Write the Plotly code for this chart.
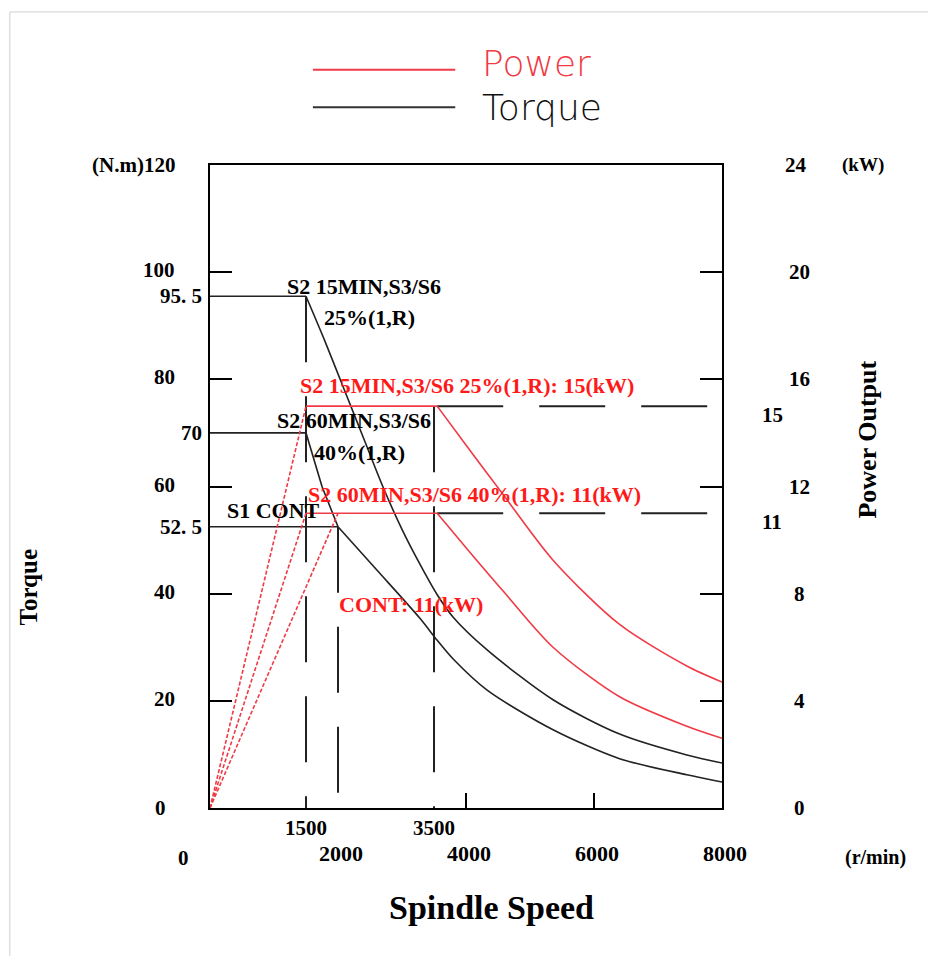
import plotly.graph_objects as go

# ---------------- data ----------------
# Power ramps (dashed, red) : speed r/min, power kW
ramp_s2_15_speed = [0, 1500]
ramp_s2_15_kw = [0, 15]
ramp_s2_60_speed = [0, 1500]
ramp_s2_60_kw = [0, 11]
ramp_cont_speed = [0, 2000]
ramp_cont_kw = [0, 11]

# Power curves (solid, red): flat part then decline
pw_s2_15_speed = [1500, 3550, 4060, 4580, 5360, 6400, 7450, 8000]
pw_s2_15_kw = [15, 15, 13.35, 11.7, 9.25, 6.85, 5.3, 4.7]
pw_s2_60_speed = [1500, 3550, 4060, 4580, 5360, 6400, 7450, 8000]
pw_s2_60_kw = [11, 11, 9.55, 8.1, 6.0, 4.15, 3.05, 2.6]

# Torque curves (solid, black) : speed r/min, torque N.m
tq_s2_15_speed = [0, 1500, 1800, 2100, 2400, 2700, 3000, 3280, 3550, 3800, 4330, 5360, 6400, 7450, 8000]
tq_s2_15_nm = [95.5, 95.5, 87, 78, 69, 60, 52, 45.5, 39.8, 35.6, 29.5, 20.2, 13.8, 9.9, 8.4]
tq_s2_60_speed = [0, 1500, 1750, 2000]
tq_s2_60_nm = [70, 70, 60, 52.5]
tq_cont_speed = [0, 2000, 2600, 3280, 3550, 3800, 4330, 5360, 6400, 7450, 8000]
tq_cont_nm = [52.5, 52.5, 44.5, 35.4, 31.3, 27.8, 22.0, 14.6, 9.2, 6.2, 4.85]

# Reference lines
vline_speed = [1500, 2000]
vline_top_nm = [95.5, 52.5]
vline_kw_speed = [3500]
vline_kw_top = [15]
hline_kw = [15, 11]
hline_kw_from = 3550
speed_max = 8000

# Tick labels
torque_ticks = [100, 80, 60, 40, 20]
torque_marks = [95.5, 70, 52.5]
power_ticks = [20, 16, 12, 8, 4, 0]
power_marks = [15, 11]
speed_ticks_low = [1500, 3500]
speed_ticks_high = [2000, 4000, 6000, 8000]

RED = "#f03a45"
RED_TXT = "#ff1a1a"
BLK = "#222222"
SERIF = "Liberation Serif"

fig = go.Figure()

def line(x, y, color, dash="solid", width=1.6, axis="y", shape="linear"):
    fig.add_trace(go.Scatter(x=x, y=y, mode="lines", yaxis=axis, showlegend=False,
                             hoverinfo="skip",
                             line=dict(color=color, width=width, dash=dash, shape=shape,
                                       smoothing=0.8)))

# vertical dashed lines
for s, t in zip(vline_speed, vline_top_nm):
    line([s, s], [t, 0], BLK, dash="66px,34px", width=2)
for s, t in zip(vline_kw_speed, vline_kw_top):
    line([s, s], [t, 0], BLK, dash="66px,34px", width=2, axis="y2")
# horizontal dashed kW lines
for k in hline_kw:
    line([hline_kw_from, speed_max], [k, k], BLK, dash="66px,36px", width=2, axis="y2")

# torque curves (flat part straight, falling part smooth)
line(tq_s2_15_speed[:2], tq_s2_15_nm[:2], BLK)
line(tq_s2_15_speed[1:], tq_s2_15_nm[1:], BLK, shape="spline")
line(tq_s2_60_speed, tq_s2_60_nm, BLK)
line(tq_cont_speed[:2], tq_cont_nm[:2], BLK)
line(tq_cont_speed[1:], tq_cont_nm[1:], BLK, shape="spline")

# power curves
line(ramp_s2_15_speed, ramp_s2_15_kw, RED, dash="4px,2px", axis="y2")
line(ramp_s2_60_speed, ramp_s2_60_kw, RED, dash="4px,2px", axis="y2")
line(ramp_cont_speed, ramp_cont_kw, RED, dash="4px,2px", axis="y2")
line(pw_s2_15_speed[:2], pw_s2_15_kw[:2], RED, axis="y2")
line(pw_s2_15_speed[1:], pw_s2_15_kw[1:], RED, axis="y2", shape="spline")
line(pw_s2_60_speed[:2], pw_s2_60_kw[:2], RED, axis="y2")
line(pw_s2_60_speed[1:], pw_s2_60_kw[1:], RED, axis="y2", shape="spline")

ann = []

def txt(text, x, y, size=21, color="black", xanchor="center", yanchor="middle",
        xref="x", yref="y", xshift=0, yshift=0, angle=0, family=SERIF, weight="bold"):
    ann.append(dict(text=text, x=x, y=y, xref=xref, yref=yref, xanchor=xanchor,
                    yanchor=yanchor, xshift=xshift, yshift=yshift, textangle=angle,
                    showarrow=False,
                    font=dict(family=family, size=size, color=color, weight=weight)))

# in-plot labels
txt("S2 15MIN,S3/S6", 1172, 97.4, xanchor="left", size=22)
txt("25%(1,R)", 1750, 91.5, xanchor="left", size=22)
txt("S2 60MIN,S3/S6", 1016, 72.4, xanchor="left", size=22)
txt("40%(1,R)", 1594, 66.4, xanchor="left", size=22)
txt("S1 CONT", 234, 55.6, xanchor="left", size=22)
txt("S2 15MIN,S3/S6 25%(1,R): 15(kW)", 1375, 78.9, xanchor="left", color=RED_TXT, size=22)
txt("S2 60MIN,S3/S6 40%(1,R): 11(kW)", 1500, 58.6, xanchor="left", color=RED_TXT, size=22)
txt("CONT: 11(kW)", 1984, 37.9, xanchor="left", color=RED_TXT, size=22)

# left tick labels
txt("(N.m)120", 0, 120, xref="paper", xanchor="right", xshift=-33)
for v in torque_ticks:
    txt(str(v), 0, v, xref="paper", xanchor="right", xshift=-33, yshift=2)
for v in torque_marks:
    txt(str(v).replace(".", ". "), 0, v, xref="paper", xanchor="right", xshift=-6)
txt("0", 0, 0, xref="paper", xanchor="center", xshift=-50)

# right tick labels
txt("24", 1, 24, xref="paper", yref="y2", xanchor="center", xshift=74)
txt("(kW)", 1, 24, xref="paper", yref="y2", xanchor="left", xshift=118, size=19)
for v in power_ticks:
    txt(str(v), 1, v, xref="paper", yref="y2", xanchor="center", xshift=77)
for v in power_marks:
    txt(str(v), 1, v, xref="paper", yref="y2", xanchor="center", xshift=50, yshift=-9)

# bottom tick labels
for v in speed_ticks_low:
    txt(str(v), v, 0, yref="paper", yanchor="middle", yshift=-20)
for v in speed_ticks_high:
    txt(str(v), v, 0, yref="paper", yanchor="middle", yshift=-45, xshift=3, size=22)
txt("0", 0, 0, yref="paper", yshift=-50, xshift=-27)
txt("(r/min)", 1, 0, xref="paper", yref="paper", xanchor="center", xshift=153, yshift=-49, size=20)

# axis titles
txt("Spindle Speed", 0.549, 0, xref="paper", yref="paper", yshift=-99, size=34)
txt("Torque", 0, 0.343, xref="paper", yref="paper", xshift=-182, angle=-90, size=25)
txt("Power Output", 1, 0.573, xref="paper", yref="paper", xshift=146, angle=-90, size=26)

# legend
txt("Power", 0.527, 1.1586, xref="paper", yref="paper", xanchor="left", size=36,
    color=RED, family="DejaVu Sans", weight=300)
txt("Torque", 0.527, 1.0902, xref="paper", yref="paper", xanchor="left", size=36,
    color="#111111", family="DejaVu Sans", weight=300)

shapes = [
    dict(type="line", xref="paper", yref="paper", x0=0.201, x1=0.479, y0=1.148, y1=1.148,
         line=dict(color=RED, width=2)),
    dict(type="line", xref="paper", yref="paper", x0=0.201, x1=0.479, y0=1.090, y1=1.090,
         line=dict(color="#333333", width=2)),
    # light picture border
    dict(type="line", xref="paper", yref="paper", x0=-0.391, x1=1.42, y0=1.238, y1=1.238,
         line=dict(color="#d0d0d0", width=1)),
    dict(type="line", xref="paper", yref="paper", x0=-0.391, x1=-0.391, y0=1.238, y1=-0.24,
         line=dict(color="#d0d0d0", width=1)),
]

axis_common = dict(showgrid=False, zeroline=False, showticklabels=False,
                   ticks="inside", tickcolor="black", tickwidth=2)

fig.update_layout(
    width=936, height=956,
    margin=dict(l=202, r=222, t=157, b=156),
    paper_bgcolor="white", plot_bgcolor="white",
    showlegend=False,
    xaxis=dict(range=[0, 8000], tickvals=[4000, 6000], ticklen=15,
               showline=True, linecolor="black", linewidth=2, mirror=True, **axis_common),
    yaxis=dict(range=[0, 120], tickvals=torque_ticks, ticklen=22,
               showline=True, linecolor="black", linewidth=2, mirror=True, **axis_common),
    yaxis2=dict(range=[0, 24], overlaying="y", side="right", tickvals=power_ticks[:-1],
                ticklen=22, showline=False, **axis_common),
    annotations=ann,
    shapes=shapes,
)

fig.write_html("out.html")
